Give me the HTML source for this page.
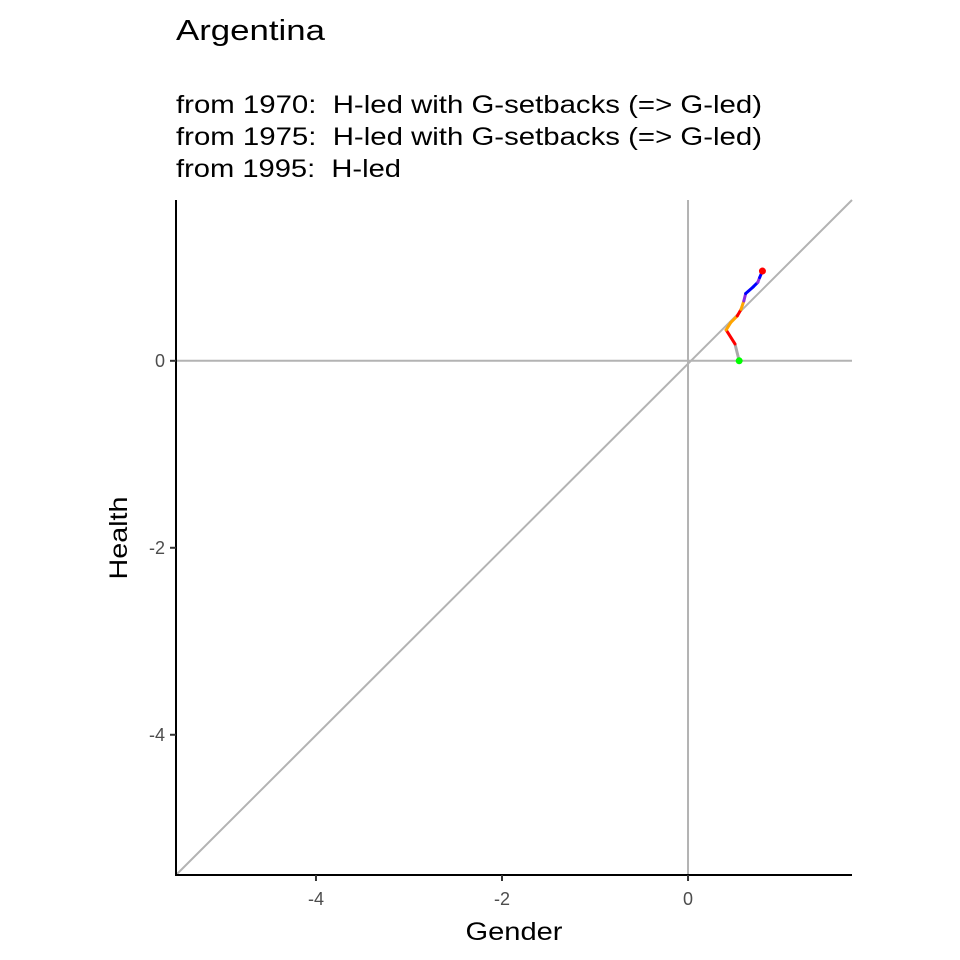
<!DOCTYPE html>
<html><head><meta charset="utf-8"><style>
body{margin:0;background:#fff}
svg{display:block;font-family:"Liberation Sans",Arial,sans-serif}
text{white-space:pre}
</style></head><body>
<svg id="chart" width="960" height="960" viewBox="0 0 960 960">
<text x="176" y="40" font-size="29" textLength="149" lengthAdjust="spacingAndGlyphs" fill="#000">Argentina</text>
<g font-size="25" fill="#000">
<text x="176" y="113" textLength="586" lengthAdjust="spacingAndGlyphs" xml:space="preserve">from 1970:  H-led with G-setbacks (=&gt; G-led)</text>
<text x="176" y="145" textLength="586" lengthAdjust="spacingAndGlyphs" xml:space="preserve">from 1975:  H-led with G-setbacks (=&gt; G-led)</text>
<text x="176" y="177" textLength="225" lengthAdjust="spacingAndGlyphs" xml:space="preserve">from 1995:  H-led</text>
</g>
<g id="plot"></g>
<text x="514" y="940" font-size="25" textLength="97" lengthAdjust="spacingAndGlyphs" text-anchor="middle">Gender</text>
<text transform="translate(127,538) rotate(-90)" font-size="25" textLength="83" lengthAdjust="spacingAndGlyphs" text-anchor="middle">Health</text>
</svg>
<script>
const xTicks=[-4,-2,0];
const yTicks=[0,-2,-4];
const pathX=[0.55,0.505,0.41,0.46,0.53,0.57,0.60,0.62,0.70,0.75,0.77,0.80];
const pathY=[0.0,0.18,0.33,0.41,0.48,0.55,0.64,0.72,0.79,0.84,0.89,0.96];
const segColors=["#aaaaaa","red","orange","orange","red","orange","#8a2be2","blue","blue","#8a2be2","blue"];
const xMin=-5.505,xMax=1.763,yMin=-5.5,yMax=1.72;
const L=176,R=852,T=200,B=875;
const sx=v=>L+(v-xMin)/(xMax-xMin)*(R-L);
const sy=v=>B-(v-yMin)/(yMax-yMin)*(B-T);
const NS="http://www.w3.org/2000/svg";
const g=document.getElementById('plot');
function mk(t,a){const e=document.createElementNS(NS,t);for(const k in a)e.setAttribute(k,a[k]);g.appendChild(e);return e;}
let e;
e=mk('line',{x1:L,y1:sy(0),x2:R,y2:sy(0),stroke:'#b3b3b3','stroke-width':2});


e=mk('line',{x1:sx(0),y1:T,x2:sx(0),y2:B,stroke:'#b3b3b3','stroke-width':2});


e=mk('line',{x1:L,y1:B,x2:R,y2:T,stroke:'#b3b3b3','stroke-width':2});


e=mk('line',{x1:L,y1:T,x2:L,y2:B+1,stroke:'#000','stroke-width':2});


e=mk('line',{x1:L-1,y1:B,x2:R,y2:B,stroke:'#000','stroke-width':2});


xTicks.forEach(v=>{
  e=mk('line',{x1:sx(v),y1:B,x2:sx(v),y2:B+6,stroke:'#333','stroke-width':2});
  
  
  e=mk('text',{x:sx(v),y:B+30,'font-size':18,'text-anchor':'middle',fill:'#4d4d4d'});
  e.textContent=v;
  
  
});
yTicks.forEach(v=>{
  e=mk('line',{x1:L-6,y1:sy(v),x2:L,y2:sy(v),stroke:'#333','stroke-width':2});
  
  
  e=mk('text',{x:L-11,y:sy(v)+6,'font-size':18,'text-anchor':'end',fill:'#4d4d4d'});
  e.textContent=v;
  
  
});
for(let i=0;i<pathX.length-1;i++){
  e=mk('line',{x1:sx(pathX[i]),y1:sy(pathY[i]),x2:sx(pathX[i+1]),y2:sy(pathY[i+1]),stroke:segColors[i],'stroke-width':3,'stroke-linecap':'round'});
  
  
}
e=mk('circle',{cx:sx(pathX[0]),cy:sy(pathY[0]),r:3.5,fill:'#00ff00'});


const n=pathX.length-1;
e=mk('circle',{cx:sx(pathX[n]),cy:sy(pathY[n]),r:3.5,fill:'red'});


</script>
</body></html>
